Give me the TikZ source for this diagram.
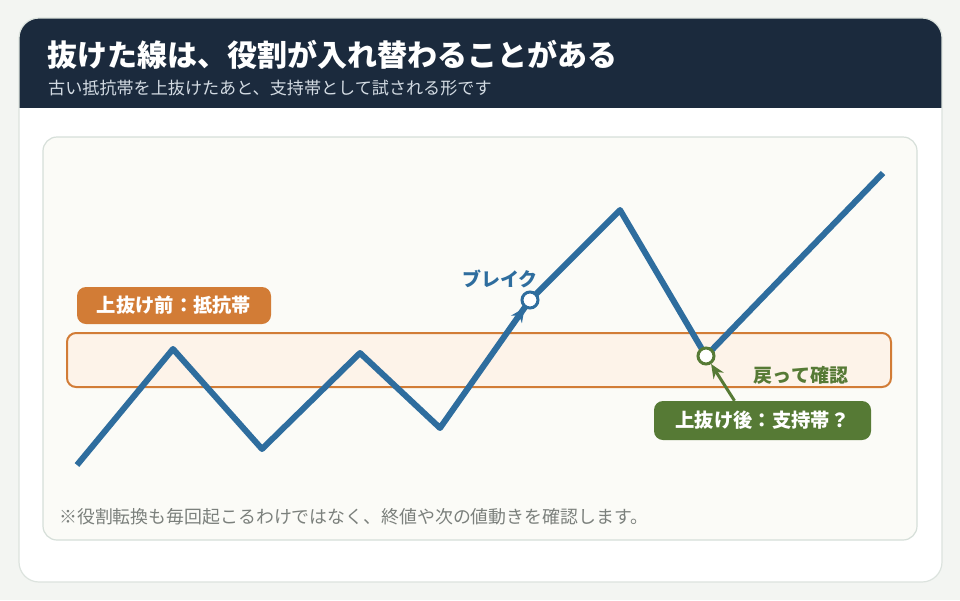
\documentclass[tikz,border=0pt]{standalone}
\usepackage{fontspec}
\setmainfont{Noto Sans CJK JP}
\usetikzlibrary{arrows.meta,positioning}

\definecolor{pagebg}{HTML}{F3F5F2}
\definecolor{cardline}{HTML}{DCE3DE}
\definecolor{navy}{HTML}{1B2A3D}
\definecolor{subtxt}{HTML}{D3DBE3}
\definecolor{panelbg}{HTML}{FBFBF7}
\definecolor{panelline}{HTML}{D6DFD9}
\definecolor{priceblue}{HTML}{2E6D9E}
\definecolor{resorange}{HTML}{D27C36}
\definecolor{bandfill}{HTML}{FDF3E9}
\definecolor{supgreen}{HTML}{567A35}
\definecolor{notegray}{HTML}{7B807C}

\begin{document}
\begin{tikzpicture}[x=1pt,y=-1pt,
    tag/.style={rounded corners=9pt, text=white, inner sep=0pt,
        font=\bfseries\fontsize{19.3}{21}\selectfont},
    marker/.style={circle, draw, fill=white, line width=3pt,
        minimum size=16pt, inner sep=0pt},
    priceline/.style={draw=priceblue, line width=6pt, line join=round}]

    % Page and card
    \useasboundingbox (0,0) rectangle (960,600);
    \fill[pagebg] (0,0) rectangle (960,600);
    \fill[white] (19,18) [rounded corners=20pt] rectangle (942,582);
    \begin{scope}
        \clip[rounded corners=20pt] (19,18) rectangle (942,582);
        \fill[navy] (19,18) rectangle (942,108);
    \end{scope}
    \draw[cardline, line width=1.2pt, rounded corners=20pt] (19,18) rectangle (942,582);

    % Title and subtitle
    \node[anchor=west, text=white, font=\bfseries\fontsize{30}{33}\selectfont, inner sep=0pt]
        (title) at (47,55) {抜けた線は、役割が入れ替わることがある};
    \node[anchor=west, text=subtxt, font=\fontsize{17.1}{19}\selectfont, inner sep=0pt]
        (subtitle) at (48,88) {古い抵抗帯を上抜けたあと、支持帯として試される形です};

    % Chart panel
    \draw[panelline, fill=panelbg, line width=1.2pt, rounded corners=14pt] (43,137) rectangle (917,540);

    % Resistance band
    \draw[resorange, fill=bandfill, line width=2pt, rounded corners=9pt] (67,333) rectangle (891,387);

    % Price path
    \draw[priceline] (77,465) coordinate (p0) -- (173,349) coordinate (p1)
        -- (262,449) coordinate (p2) -- (360,353) coordinate (p3)
        -- (440,428) coordinate (p4) -- (530,300) coordinate (p5)
        -- (620,210) coordinate (p6) -- (706,356) coordinate (p7)
        -- (883,173) coordinate (p8);

    % Break point
    \node[marker, draw=priceblue] (brk) at (p5) {};
    \coordinate (brkfrom) at (507,333);
    \draw[priceblue, line width=4.5pt, -{Stealth[length=14pt,width=13pt]}] (brkfrom) -- (brk);
    \node[text=priceblue, font=\bfseries\fontsize{19}{21}\selectfont, inner sep=0pt]
        (brklabel) at (500,279) {ブレイク};

    % Retest point
    \node[marker, draw=supgreen] (retest) at (p7) {};
    \node[text=supgreen, font=\bfseries\fontsize{19}{21}\selectfont, inner sep=0pt]
        (retestlabel) at (801,375) {戻って確認};

    % Labels
    \node[tag, fill=resorange, minimum width=194pt, minimum height=37pt]
        (before) at (174,305.5) {上抜け前：抵抗帯};
    \node[tag, fill=supgreen, minimum width=217pt, minimum height=39pt]
        (after) at (762.5,420.5) {上抜け後：支持帯？};
    \draw[supgreen, line width=3pt, -{Stealth[length=14pt,width=12pt]}]
        ([xshift=-28pt]after.north) -- (retest);

    % Note
    \node[anchor=west, text=notegray, font=\fontsize{17.9}{20}\selectfont, inner sep=0pt]
        (note) at (59,517) {※役割転換も毎回起こるわけではなく、終値や次の値動きを確認します。};
\end{tikzpicture}
\end{document}
